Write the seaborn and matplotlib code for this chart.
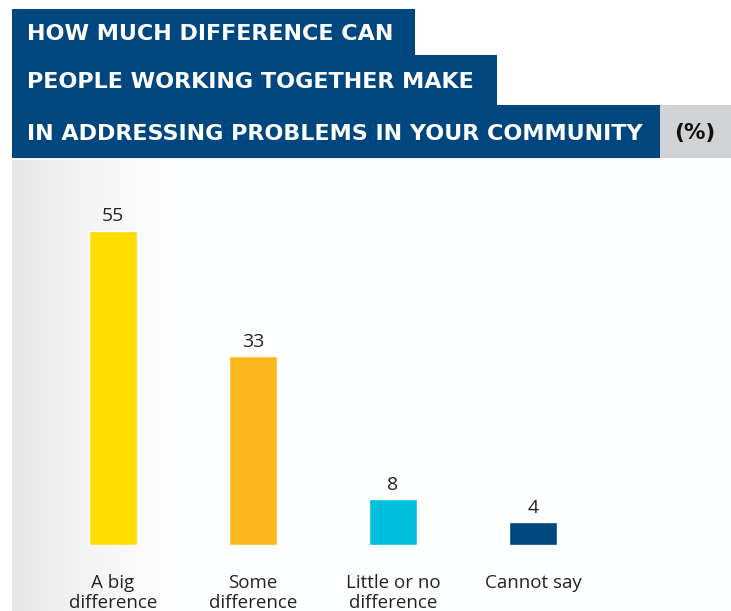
import numpy as np
import matplotlib
matplotlib.use("Agg")
import matplotlib.pyplot as plt
from matplotlib.patches import Rectangle
import seaborn as sns

# data
categories = ["A big\ndifference", "Some\ndifference", "Little or no\ndifference", "Cannot say"]
values = [55, 33, 8, 4]
bar_colors = ["#FFDD00", "#FDB71E", "#00BFDD", "#00467F"]
title_lines = ["HOW MUCH DIFFERENCE CAN", "PEOPLE WORKING TOGETHER MAKE",
               "IN ADDRESSING PROBLEMS IN YOUR COMMUNITY"]

W, H = 731, 611
NAVY = "#00467F"

sns.set_theme(style="white")
plt.rcParams['font.family'] = ['Open Sans', 'DejaVu Sans']

fig = plt.figure(figsize=(W / 100, H / 100), dpi=100)


def fx(px):
    return px / W


def fy(py):
    # py measured from the top
    return 1 - py / H


# gradient background behind the bars
bg = fig.add_axes([fx(12), 0, fx(W - 12), fy(160)])
grad = np.linspace(0, 1, 400)
shade = 0.90 + 0.10 * np.clip(grad / 0.22, 0, 1) ** 0.8
img = np.dstack([shade * 0.998, shade, shade * 1.002])
img = np.clip(np.repeat(img, 10, axis=0), 0, 1)
bg.imshow(img, aspect="auto", extent=[0, 1, 0, 1])
bg.axis("off")

# bar axes
ax = fig.add_axes([fx(12), fy(545), fx(W - 12), fy(160) - fy(545)])
ax.set_facecolor("none")
sns.barplot(x=list(range(len(values))), y=values, hue=list(range(len(values))),
            palette=bar_colors, width=0.343, legend=False, ax=ax, saturation=1)
ax.set_xlim(-0.7214, 4.414)
ax.set_ylim(0, 67.4)
for c in ax.containers:
    ax.bar_label(c, padding=4, fontsize=14, color="#222222")
ax.set_xticks(range(len(categories)))
ax.set_xticklabels(categories, fontsize=13.5, color="#222222", linespacing=1.15)
ax.tick_params(axis="x", length=0, pad=21)
ax.set_yticks([])
ax.set_xlabel("")
ax.set_ylabel("")
sns.despine(ax=ax, left=True, bottom=True)

# title blocks
blocks = [(12, 9, 415, 55), (12, 55, 497, 105), (12, 105, 660, 158)]
for (x0, y0, x1, y1), line in zip(blocks, title_lines):
    fig.add_artist(Rectangle((fx(x0), fy(y1)), fx(x1 - x0), fy(y0) - fy(y1),
                             transform=fig.transFigure, color=NAVY, lw=0))
    fig.text(fx(27), fy((y0 + y1) / 2 + 2.5), line, color="white", fontsize=16,
             fontweight="bold", family=["DejaVu Sans"], va="center", ha="left")
fig.add_artist(Rectangle((fx(660), fy(158)), fx(W - 660), fy(105) - fy(158),
                         transform=fig.transFigure, color="#D1D2D4", lw=0))
fig.text(fx(695), fy(133.5), "(%)", color="#111111", fontsize=15.5, fontweight="bold",
         family=["DejaVu Sans"], va="center", ha="center")

fig.savefig("out.png", dpi=100)
